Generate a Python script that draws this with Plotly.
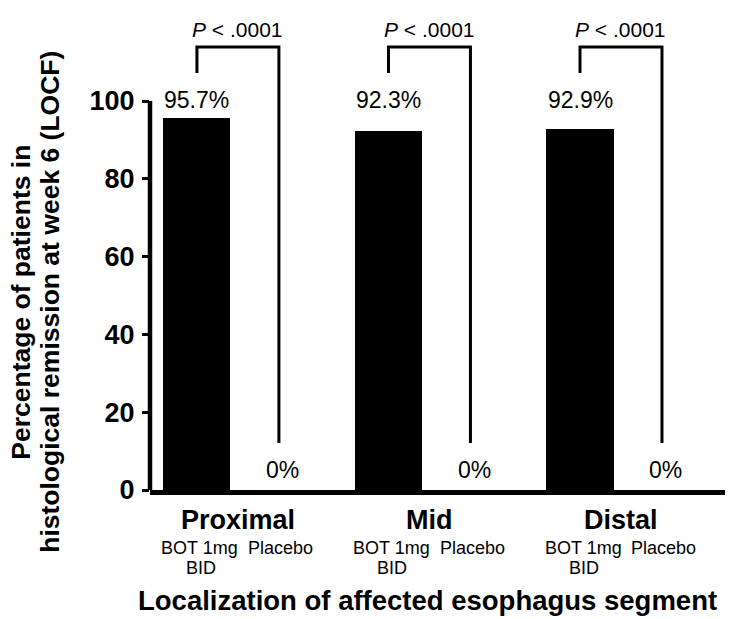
import plotly.graph_objects as go

# ---- data ----
groups = ["Proximal", "Mid", "Distal"]
bot_values = [95.7, 92.3, 92.9]
placebo_values = [0, 0, 0]
treatment_bot = ["BOT 1mg", "BID"]
treatment_placebo = "Placebo"
p_labels = ["<i>P</i> < .0001", "<i>P</i> < .0001", "<i>P</i> < .0001"]
y_ticks = [0, 20, 40, 60, 80, 100]
y_title_lines = ["Percentage of patients in", "histological remission at week 6 (LOCF)"]
x_title = "Localization of affected esophagus segment"

# ---- style / layout constants ----
FONT = "Liberation Sans, Arial, Helvetica, sans-serif"
BOT_OFF = 0.0
PLA_OFF = 0.428
BAR_W = 0.35
Y_MAX = 123.4

x_bot = [i + BOT_OFF for i in range(len(groups))]
x_pla = [i + PLA_OFF for i in range(len(groups))]

fig = go.Figure()
fig.add_trace(go.Bar(x=x_bot, y=bot_values, width=BAR_W,
                     marker=dict(color="black", line=dict(width=0)),
                     showlegend=False, hoverinfo="skip"))
fig.add_trace(go.Bar(x=x_pla, y=placebo_values, width=BAR_W,
                     marker=dict(color="black", line=dict(width=0)),
                     showlegend=False, hoverinfo="skip"))

ann = []
shapes = []
for i, g in enumerate(groups):
    xb, xp = x_bot[i], x_pla[i]
    # value labels
    ann.append(dict(x=xb, y=100.2, xref="x", yref="y", text=f"{bot_values[i]}%",
                    showarrow=False, xanchor="center", yanchor="middle",
                    font=dict(size=23, color="black", family=FONT)))
    ann.append(dict(x=xp, y=5.1, xref="x", yref="y", text=f"{placebo_values[i]}%",
                    showarrow=False, xanchor="center", yanchor="middle", xshift=4,
                    font=dict(size=23, color="black", family=FONT)))
    # bracket
    shapes.append(dict(type="path", xref="x", yref="y",
                       path=f"M {xb},107.2 L {xb},113.9 L {xp},113.9 L {xp},12.1",
                       line=dict(color="black", width=3)))
    ann.append(dict(x=(xb + xp) / 2, y=118.3, xref="x", yref="y", text=p_labels[i],
                    showarrow=False, xanchor="center", yanchor="middle",
                    font=dict(size=21, color="black", family=FONT)))
    # group names
    ann.append(dict(x=(xb + xp) / 2, y=-0.0625, xref="x", yref="paper", text=g,
                    showarrow=False, xanchor="center", yanchor="middle",
                    font=dict(size=27, color="black", family=FONT, weight="bold")))
    # treatment labels
    for j, (line, ypos) in enumerate(zip(treatment_bot, [-0.1208, -0.1625])):
        ann.append(dict(x=xb, y=ypos, xref="x", yref="paper", text=line,
                        showarrow=False, xanchor="center", yanchor="middle",
                        xshift=3 if j == 0 else 4,
                        font=dict(size=18, color="black", family=FONT)))
    ann.append(dict(x=xp, y=-0.1208, xref="x", yref="paper", text=treatment_placebo,
                    showarrow=False, xanchor="center", yanchor="middle", xshift=2,
                    font=dict(size=18, color="black", family=FONT)))

# axis titles
ann.append(dict(x=0.482, y=-0.231, xref="paper", yref="paper", text=x_title,
                showarrow=False, xanchor="center", yanchor="middle",
                font=dict(size=27.5, color="black", family=FONT, weight="bold")))
for xp_, line in zip([-0.2245, -0.1740], y_title_lines):
    ann.append(dict(x=xp_, y=0.392, xref="paper", yref="paper", text=line,
                    showarrow=False, xanchor="center", yanchor="middle", textangle=-90,
                    font=dict(size=26.5, color="black", family=FONT, weight="bold")))

# y axis line (only up to 100)
shapes.append(dict(type="line", xref="paper", yref="y", x0=0, x1=0, y0=0, y1=100,
                   line=dict(color="black", width=4.5)))

fig.update_layout(
    width=735, height=619,
    margin=dict(l=150, r=10, t=10, b=129),
    paper_bgcolor="white", plot_bgcolor="white",
    annotations=ann, shapes=shapes,
    bargap=0,
    xaxis=dict(range=[-0.245, 2.757], showgrid=False, zeroline=False,
               showticklabels=False, ticks="", showline=True,
               linecolor="black", linewidth=4.5, fixedrange=True),
    yaxis=dict(range=[0, Y_MAX], showgrid=False, zeroline=False,
               tickvals=y_ticks, ticks="outside", ticklen=7, tickwidth=3,
               tickcolor="black", showline=False, ticklabelstandoff=2,
               tickfont=dict(size=27, color="black", family=FONT, weight="bold"),
               fixedrange=True),
)

fig.write_html("out.html")
